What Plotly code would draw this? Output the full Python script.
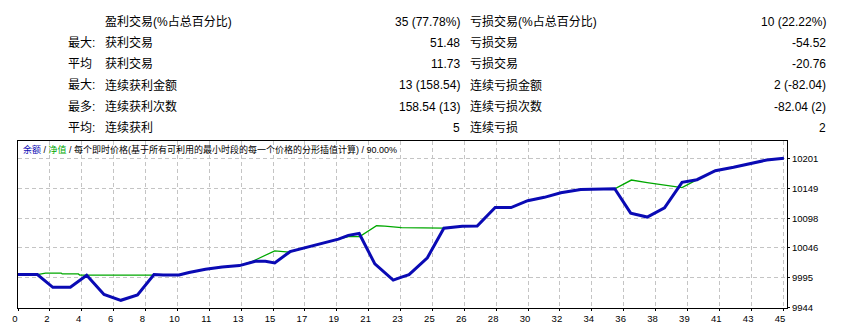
import plotly.graph_objects as go

# ---------------- data ----------------
bal_x = [0, 1.14, 2.05, 3.08, 4.04, 5.06, 6.05, 7.03, 8.0, 8.54,
         9.47, 10.06, 11.03, 12.01, 13.03, 13.96, 14.55, 15.1, 16.0, 16.89,
         17.87, 18.85, 19.43, 20.07, 20.99, 22.07, 22.56, 23.0, 23.34, 24.08,
         25.05, 26.13, 27.01, 28.07, 29.0, 29.98, 30.96, 31.93, 33.1, 35.1,
         36.04, 37.01, 38.03, 39.06, 39.94, 41.02, 42.09, 43.07, 44.04, 45.05]
bal_y = [10000.7, 10000.7, 9978.7, 9978.7, 9999.6, 9966.2, 9956.2, 9965.4, 10000.7, 9999.9,
         9999.9, 10004.4, 10009.9, 10014.0, 10016.3, 10023.7, 10023.7, 10020.8, 10040.4, 10047.3,
         10054.8, 10062.2, 10068.6, 10071.9, 10019.2, 9991.1, 9996.4, 10000.7, 10009.9, 10029.9,
         10081.0, 10084.2, 10084.7, 10116.8, 10116.8, 10128.7, 10134.5, 10142.5, 10148.0, 10149.3,
         10107.2, 10100.3, 10116.3, 10160.5, 10165.0, 10180.6, 10186.5, 10192.6, 10199.1, 10202.0]

eq_x = [0, 1.14, 1.62, 2.54, 2.6, 3.55, 3.63, 4.51, 4.57, 8.0,
        8.54, 9.47, 10.06, 11.03, 12.01, 13.03, 13.8, 15.1, 15.95, 16.89,
        17.87, 18.85, 19.43, 20.1, 21.09, 21.58, 22.56, 24.5, 25.05, 26.13,
        27.01, 28.07, 29.0, 29.98, 30.96, 31.93, 33.1, 35.1, 36.08, 37.01,
        38.79, 39.06, 39.84, 41.02, 42.09, 43.07, 44.04, 45.05]
eq_y = [10000.7, 10000.7, 10003.4, 10003.4, 10001.8, 10001.8, 9999.9, 9999.9, 10001.2, 10001.2,
        9999.9, 9999.9, 10004.4, 10009.9, 10014.0, 10016.3, 10023.7, 10041.9, 10039.6, 10047.3,
        10054.8, 10062.2, 10066.6, 10066.6, 10085.3, 10084.7, 10082.1, 10082.1, 10081.0, 10084.2,
        10084.7, 10116.8, 10116.8, 10128.7, 10134.5, 10142.5, 10148.0, 10149.3, 10164.4, 10160.0,
        10152.2, 10151.2, 10163.4, 10180.6, 10186.5, 10192.6, 10199.1, 10202.0]

x_tick_text = ["0", "2", "4", "6", "8", "10", "11", "13", "15", "17", "19", "21", "23",
               "25", "26", "28", "30", "32", "34", "36", "38", "39", "41", "43", "45"]
y_tick_vals = [9944.0, 9995.4, 10046.8, 10098.2, 10149.6, 10201.0]
y_tick_text = ["9944", "9995", "10046", "10098", "10149", "10201"]

row_prefix = ["", "最大:", "平均", "最大:", "最多:", "平均:"]
row_label_win = ["盈利交易(%占总百分比)", "获利交易", "获利交易", "连续获利金额", "连续获利次数", "连续获利"]
row_value_win = ["35 (77.78%)", "51.48", "11.73", "13 (158.54)", "158.54 (13)", "5"]
row_label_loss = ["亏损交易(%占总百分比)", "亏损交易", "亏损交易", "连续亏损金额", "连续亏损次数", "连续亏损"]
row_value_loss = ["10 (22.22%)", "-54.52", "-20.76", "2 (-82.04)", "-82.04 (2)", "2"]

legend_balance = "余额"
legend_equity = "净值"
legend_rest = "每个即时价格(基于所有可利用的最小时段的每一个价格的分形插值计算)"
legend_pct = "90.00%"

# ---------------- layout geometry ----------------
W, H = 849, 336
PL, PR, PT, PB = 15, 787, 141, 321          # plot area in pixels
n_ticks = len(x_tick_text)
x_step = 45 / 24                             # trade units per grid cell
x_max = (PR - PL) / 32 * x_step
y_per_px = 51.4 / 32
y_min = 9944.0 - (PB - 320.3) * y_per_px
y_max = 9944.0 + (320.3 - PT) * y_per_px

BLUE = "#0A0AB4"
GREEN = "#00A800"
FONT = "Tahoma, 'Liberation Sans', Arial, 'Noto Sans CJK SC', sans-serif"

def fx(px):
    return (px - PL) / (PR - PL)

def fy(py):
    return (PB - py) / (PB - PT)

fig = go.Figure()
fig.add_trace(go.Scatter(x=eq_x, y=eq_y, mode="lines",
                         line=dict(color=GREEN, width=1.3), hoverinfo="skip"))
fig.add_trace(go.Scatter(x=bal_x, y=bal_y, mode="lines",
                         line=dict(color=BLUE, width=3), hoverinfo="skip"))

grid = dict(showgrid=True, gridcolor="#C4C4C4", griddash="4px,3px", gridwidth=1,
            showline=True, linecolor="black", linewidth=1, mirror=True,
            ticks="outside", ticklen=2, tickcolor="black", zeroline=False,
            tickfont=dict(family=FONT, size=9.5, color="black"))

fig.update_layout(
    width=W, height=H,
    margin=dict(l=PL, r=W - PR, t=PT, b=H - PB, pad=0),
    paper_bgcolor="white", plot_bgcolor="white",
    showlegend=False,
    xaxis=dict(range=[0, x_max], tickmode="array",
               tickvals=[k * x_step for k in range(n_ticks)],
               ticktext=x_tick_text, ticklabelshift=-3, **grid),
    yaxis=dict(range=[y_min, y_max], side="right", tickmode="array",
               tickvals=y_tick_vals, ticktext=y_tick_text, **grid),
)

ann = []
row_y = [12.3, 35, 57.5, 80.8, 104, 126.8]
tfont = dict(family=FONT, size=12, color="black")
for i in range(len(row_y)):
    yy = fy(row_y[i])
    if row_prefix[i]:
        ann.append(dict(x=fx(93 if row_prefix[i].endswith(":") else 90), y=yy,
                        text=row_prefix[i], xanchor="right", font=tfont))
    ann.append(dict(x=fx(101), y=yy, text=row_label_win[i], xanchor="left", font=tfont))
    ann.append(dict(x=fx(460), y=yy, text=row_value_win[i], xanchor="right", font=tfont))
    ann.append(dict(x=fx(468), y=yy, text=row_label_loss[i], xanchor="left", font=tfont))
    ann.append(dict(x=fx(827), y=yy, text=row_value_loss[i], xanchor="right", font=tfont))

legend_text = (f"<span style='color:{BLUE}'>{legend_balance}</span> / "
               f"<span style='color:{GREEN}'>{legend_equity}</span> / "
               f"{legend_rest} / {legend_pct}")
ann.append(dict(x=fx(19), y=fy(150.7), text=legend_text, xanchor="left",
                font=dict(family=FONT, size=9, color="black")))

for a in ann:
    a.update(xref="paper", yref="paper", yanchor="middle", showarrow=False,
             borderpad=0)
fig.update_layout(annotations=ann)

fig.write_html("out.html")
